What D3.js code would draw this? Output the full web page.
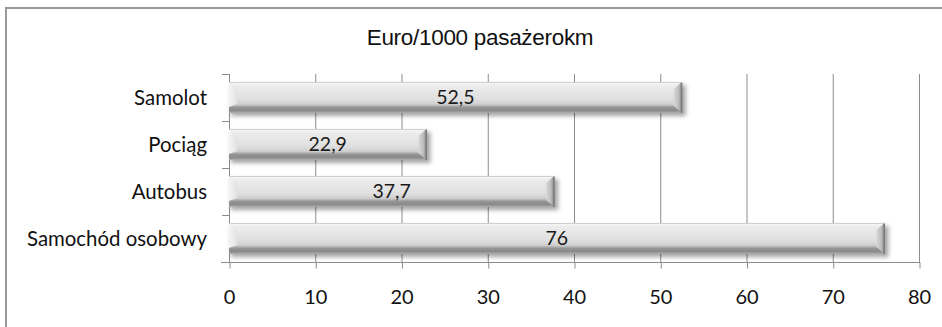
<!DOCTYPE html>
<html><head><meta charset="utf-8">
<script src="https://cdn.jsdelivr.net/npm/d3@7/dist/d3.min.js"></script>
<style>html,body{margin:0;padding:0;background:#fff;}svg{display:block;}</style>
</head><body>
<script>
const categories = ["Samolot", "Pociąg", "Autobus", "Samochód osobowy"];
const values = [52.5, 22.9, 37.7, 76];
const valueLabels = ["52,5", "22,9", "37,7", "76"];
const xTicks = [0, 10, 20, 30, 40, 50, 60, 70, 80];
const title = "Euro/1000 pasażerokm";

const W = 942, H = 327;
const svg = d3.select("body").append("svg").attr("width", W).attr("height", H);
const defs = svg.append("defs");

const g1 = defs.append("linearGradient").attr("id", "barBody").attr("x1", 0).attr("x2", 0).attr("y1", 0).attr("y2", 1);
[[0, "#fafafa"], [0.12, "#ececec"], [0.55, "#e0e0e0"], [0.72, "#cfcfcf"], [0.82, "#949494"], [0.92, "#8a8a8a"], [1, "#b0b0b0"]]
  .forEach(([o, c]) => g1.append("stop").attr("offset", o).attr("stop-color", c));
const g2 = defs.append("linearGradient").attr("id", "barEnd").attr("x1", 0).attr("x2", 1).attr("y1", 0).attr("y2", 0);
[[0, "#d8d8d8"], [0.6, "#bdbdbd"], [1, "#8a8a8a"]]
  .forEach(([o, c]) => g2.append("stop").attr("offset", o).attr("stop-color", c));
const g3 = defs.append("linearGradient").attr("id", "barStart").attr("x1", 0).attr("x2", 1).attr("y1", 0).attr("y2", 0);
[[0, "#f4f4f4"], [1, "#e2e2e2"]]
  .forEach(([o, c]) => g3.append("stop").attr("offset", o).attr("stop-color", c));
const f = defs.append("filter").attr("id", "shadow").attr("x", -0.1).attr("y", -0.5).attr("width", 1.2).attr("height", 2);
f.append("feGaussianBlur").attr("stdDeviation", 2);

// outer border
svg.append("rect").attr("x", 6).attr("y", 8).attr("width", W).attr("height", H)
  .attr("fill", "#fff").attr("stroke", "#9a9a9a").attr("stroke-width", 2);

svg.append("text").attr("x", 480).attr("y", 45).attr("text-anchor", "middle")
  .attr("font-family", "Liberation Sans, Arial, sans-serif").attr("font-size", 22.5)
  .attr("letter-spacing", -0.3).attr("fill", "#111").text(title);

const x = d3.scaleLinear().domain([0, 80]).range([229, 919]);
const y = d3.scaleBand().domain(categories).range([74, 262]).paddingInner(0.34).paddingOuter(0.17);

// gridlines
svg.append("g").selectAll("line").data(xTicks.slice(1)).join("line")
  .attr("x1", d => x(d) + 0.5).attr("x2", d => x(d) + 0.5)
  .attr("y1", 74).attr("y2", 262).attr("stroke", "#8c8c8c").attr("stroke-width", 1);

// x axis
const xAxis = svg.append("g").attr("transform", "translate(0,262.5)")
  .call(d3.axisBottom(x).tickValues(xTicks).tickSize(6).tickPadding(21).tickFormat(d => d));
xAxis.select(".domain").remove();
xAxis.selectAll(".tick line").attr("stroke", "#8c8c8c").attr("transform", "translate(0.5,0)");
xAxis.selectAll(".tick text").attr("font-family", "Lato, sans-serif").attr("font-size", 20)
  .attr("fill", "#111").attr("dy", "0.71em");
svg.append("line").attr("x1", 221).attr("x2", x(80) + 1).attr("y1", 262.5).attr("y2", 262.5).attr("stroke", "#8c8c8c");

// y axis
const bandEdges = categories.map(c => y(c) - y.step() * y.paddingInner() / 2).concat([262]);
svg.append("line").attr("x1", 229.5).attr("x2", 229.5).attr("y1", 74).attr("y2", 262).attr("stroke", "#8c8c8c");
svg.append("g").selectAll("line").data(bandEdges).join("line")
  .attr("x1", 222).attr("x2", 229.5).attr("y1", d => Math.round(d) + 0.5).attr("y2", d => Math.round(d) + 0.5)
  .attr("stroke", "#8c8c8c");
svg.append("g").selectAll("text").data(categories).join("text")
  .attr("x", 207).attr("y", d => y(d) + y.bandwidth() / 2).attr("dy", "0.35em")
  .attr("text-anchor", "end").attr("font-family", "Lato, sans-serif").attr("font-size", 20.4)
  .attr("fill", "#111").text(d => d);

// bars
const bars = svg.append("g").selectAll("g").data(categories).join("g");
const bh = y.bandwidth();
bars.append("rect").attr("x", x(0) + 2).attr("y", d => y(d) + 3)
  .attr("width", (d, i) => x(values[i]) - x(0) + 2).attr("height", bh)
  .attr("fill", "rgba(0,0,0,0.35)").attr("filter", "url(#shadow)");
bars.append("rect").attr("x", x(0)).attr("y", d => y(d))
  .attr("width", (d, i) => x(values[i]) - x(0)).attr("height", bh)
  .attr("fill", "url(#barBody)");
bars.append("path").attr("d", (d, i) => {
  const x1 = x(values[i]), y0 = y(d), y1 = y(d) + bh;
  return `M${x1},${y0}L${x1},${y1}L${x1 - 8},${y1 - 7}L${x1 - 8},${y0 + 7}Z`;
}).attr("fill", "url(#barEnd)");
bars.append("path").attr("d", (d) => {
  const x0 = x(0), y0 = y(d), y1 = y(d) + bh;
  return `M${x0},${y0}L${x0 + 8},${y0 + 7}L${x0 + 8},${y1 - 9}L${x0},${y1 - 6}Z`;
}).attr("fill", "url(#barStart)");
bars.append("rect").attr("x", (d, i) => x(values[i]) - 1).attr("y", d => y(d))
  .attr("width", 1.5).attr("height", bh).attr("fill", "#7a7a7a");
bars.append("line").attr("x1", x(0)).attr("x2", (d, i) => x(values[i]))
  .attr("y1", d => y(d) + 0.5).attr("y2", d => y(d) + 0.5).attr("stroke", "#cfcfcf");
bars.append("text").attr("x", (d, i) => (x(0) + x(values[i])) / 2)
  .attr("y", d => y(d) + bh / 2).attr("dy", "0.35em").attr("text-anchor", "middle")
  .attr("font-family", "Lato, sans-serif").attr("font-size", 19.5).attr("fill", "#1a1a1a")
  .text((d, i) => valueLabels[i]);
</script>
</body></html>
